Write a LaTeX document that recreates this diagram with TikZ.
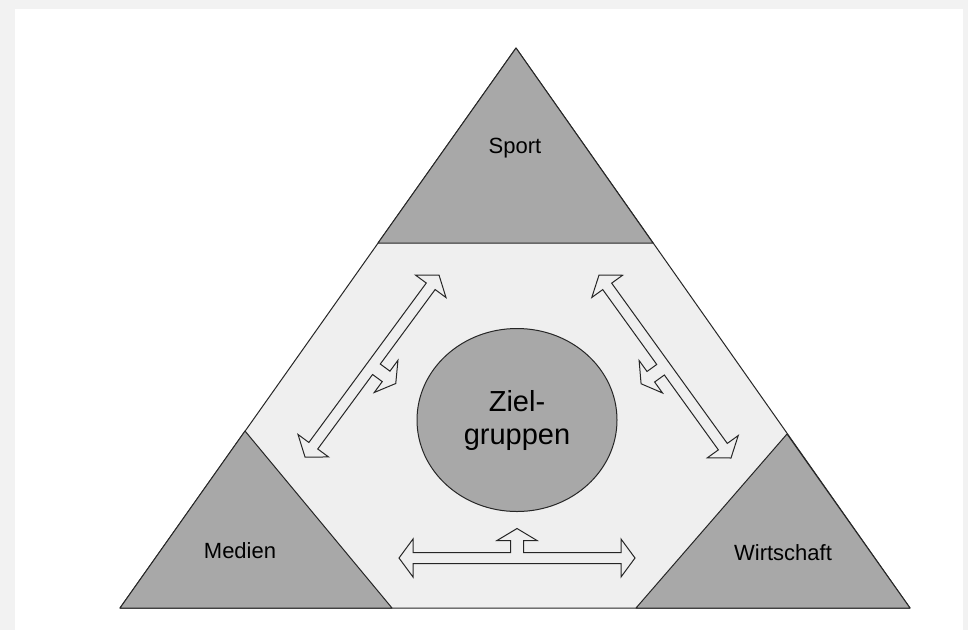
\documentclass[tikz,border=0pt]{standalone}
\usepackage{fontspec}
\setmainfont{Liberation Sans}
\usepackage{xcolor}
\usepackage{tikz}
\usetikzlibrary{calc,shapes.geometric}

\definecolor{framegray}{HTML}{F2F2F2}
\definecolor{midgray}{HTML}{EFEFEF}
\definecolor{darkgray}{HTML}{A8A8A8}
\definecolor{linegray}{HTML}{262626}

% hollow double arrow with a stub on its left side, from #1 to #2
\newcommand{\stubarrow}[2]{%
  \path let \p1=(#1), \p2=(#2) in
    \pgfextra{\pgfmathsetmacro\arrang{atan2(\y2-\y1,\x2-\x1)}\xdef\arrang{\arrang}%
      \pgfmathsetmacro\arrlen{100*veclen((\x2-\x1)/100,(\y2-\y1)/100)}\xdef\arrlen{\arrlen}};
  \begin{scope}[shift={(#1)}, rotate=\arrang, x=1pt, y=1pt]
    \draw[blockarr] (0,0) -- (14,19) -- (14,5.5)
      -- ({\arrlen/2-6.5},5.5) -- ({\arrlen/2-6.5},17.5) -- ({\arrlen/2-20},17.5)
      -- ({\arrlen/2},29.5) -- ({\arrlen/2+20},17.5) -- ({\arrlen/2+6.5},17.5)
      -- ({\arrlen/2+6.5},5.5) -- ({\arrlen-14},5.5) -- ({\arrlen-14},19)
      -- ({\arrlen},0) -- ({\arrlen-14},-19) -- ({\arrlen-14},-5.5)
      -- (14,-5.5) -- (14,-19) -- cycle;
  \end{scope}}

\begin{document}
\begin{tikzpicture}[x=1pt, y=-1pt,
    region/.style={draw=linegray, line width=1pt, line join=round},
    corner/.style={region, fill=darkgray},
    blockarr/.style={draw=linegray, line width=1pt, line join=miter},
    label/.style={font=\fontsize{22}{26}\selectfont, text=black}
]
    % frame
    \fill[framegray] (0,0) rectangle (968,630);
    \fill[white] (15,9) rectangle (963,630);
    \useasboundingbox (0,0) rectangle (968,630);

    % big triangle and its corners
    \coordinate (A) at (516,48);
    \coordinate (L) at (120,608);
    \coordinate (R) at (910,608);
    \filldraw[region, fill=midgray] (A) -- (L) -- (R) -- cycle;
    \filldraw[corner] (A) -- (378,243) -- (653,243) -- cycle;
    \filldraw[corner] (245,431) -- (L) -- (392,608) -- cycle;
    \filldraw[corner] (787,434) -- (636,608) -- (R) -- cycle;

    \node[label] (sport) at (515,148) {Sport};
    \node[label] (medien) at (240,551) {Medien};
    \node[label] (wirtschaft) at (783,553) {Wirtschaft};

    % centre
    \node[ellipse, draw=linegray, line width=1pt, fill=darkgray,
      minimum width=200, minimum height=183, align=center,
      font=\fontsize{29}{33}\selectfont] (ziel) at (517,420) {Ziel-\\gruppen};

    % arrows
    \coordinate (LT) at (439,275);
    \coordinate (LB) at (305,457);
    \coordinate (RT) at (599,275);
    \coordinate (RB) at (731,458);
    \coordinate (BL) at (399,558);
    \coordinate (BR) at (635,558);
    \stubarrow{LT}{LB}
    \stubarrow{RB}{RT}
    \stubarrow{BL}{BR}
\end{tikzpicture}
\end{document}
